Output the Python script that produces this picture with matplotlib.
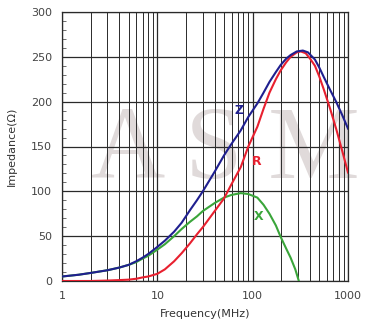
import matplotlib
matplotlib.use("Agg")
import matplotlib.pyplot as plt
from matplotlib.ticker import FixedLocator, MultipleLocator, NullFormatter

freq_z = [1, 1.5, 2, 3, 4, 5, 6, 7, 8, 10, 12, 15, 18, 22, 26, 30, 40, 50, 60, 75, 90,
          112, 130, 150, 175, 197, 225, 250, 290, 336, 380, 450, 500, 560, 650, 750, 870, 1000]
z_vals = [5, 7, 9, 12, 15, 18, 22, 26, 30, 38, 45, 55, 65, 79, 90, 100, 122, 140, 153, 168, 183,
          198, 210, 222, 233, 241, 248, 252, 256, 257, 255, 247, 238, 227, 213, 200, 185, 170]

freq_r = [1, 2, 3, 4, 5, 6, 7, 8, 10, 12, 15, 18, 22, 26, 30, 40, 50, 60, 75, 90,
          112, 130, 150, 175, 197, 225, 250, 290, 320, 360, 400, 450, 500, 560, 650, 750, 870, 1000]
r_vals = [0, 0, 0.5, 1, 1.5, 2.5, 4, 5, 8, 13, 22, 31, 42, 52, 60, 78, 92, 108, 127, 150,
          172, 192, 210, 225, 235, 244, 250, 255, 256, 254, 248, 240, 228, 213, 192, 170, 145, 121]

freq_x = [1, 1.5, 2, 3, 4, 5, 6, 7, 8, 10, 12, 15, 18, 22, 26, 30, 40, 50, 60, 75, 90,
          112, 130, 150, 175, 197, 225, 250, 280, 305]
x_vals = [5, 7, 9, 12, 15, 18, 21, 25, 28, 35, 41, 50, 58, 66, 72, 78, 87, 93, 96, 98, 97,
          93, 85, 75, 62, 49, 36, 26, 13, 0]

xticks = [1, 10, 100, 1000]
xticklabels = ["1", "10", "100", "1000"]
yticks = [0, 50, 100, 150, 200, 250, 300]

fig = plt.figure(figsize=(3.67, 3.29), dpi=100)
ax = fig.add_axes([62/367, 48/329, 286/367, 269/329])

# faint watermark behind the grid
fig.text(0.613, 0.535, "A S M", fontsize=74, family="Liberation Serif",
         color="#e0dada", ha="center", va="center", zorder=-5)

ax.set_facecolor("none")
ax.plot(freq_z, z_vals, color="#1f1f8f", lw=1.5, zorder=5)
ax.plot(freq_r, r_vals, color="#e8202f", lw=1.5, zorder=4)
ax.plot(freq_x, x_vals, color="#3aa53a", lw=1.5, zorder=3)

ax.set_xscale("log")
ax.set_xlim(1, 1000)
ax.set_ylim(0, 300)
ax.xaxis.set_major_locator(FixedLocator(xticks))
ax.set_xticklabels(xticklabels)
minor = [m * 10**e for e in range(3) for m in range(2, 10)]
ax.xaxis.set_minor_locator(FixedLocator(minor))
ax.xaxis.set_minor_formatter(NullFormatter())
ax.set_yticks(yticks)
ax.yaxis.set_minor_locator(MultipleLocator(10))

ax.grid(True, which="major", color="#2a2a2a", lw=0.9)
ax.grid(True, which="minor", axis="x", color="#2a2a2a", lw=0.7)
ax.tick_params(axis="both", which="major", length=0, labelsize=8, labelcolor="#444444", pad=7)
ax.tick_params(axis="x", which="minor", length=0)
ax.tick_params(axis="y", which="minor", direction="in", length=3, color="#555555")
for s in ax.spines.values():
    s.set_color("#2a2a2a")
    s.set_linewidth(0.9)

ax.set_xlabel("Frequency(MHz)", fontsize=8, color="#333333", labelpad=6)
ax.set_ylabel("Impedance(\u03a9)", fontsize=8, color="#333333", labelpad=10)

ax.text(72, 190, "Z", color="#1f1f8f", fontsize=9, fontweight="bold", ha="center", va="center")
ax.text(110, 133, "R", color="#e8202f", fontsize=9, fontweight="bold", ha="center", va="center")
ax.text(115, 72, "X", color="#3aa53a", fontsize=9, fontweight="bold", ha="center", va="center")

fig.savefig("out.png", dpi=100)
